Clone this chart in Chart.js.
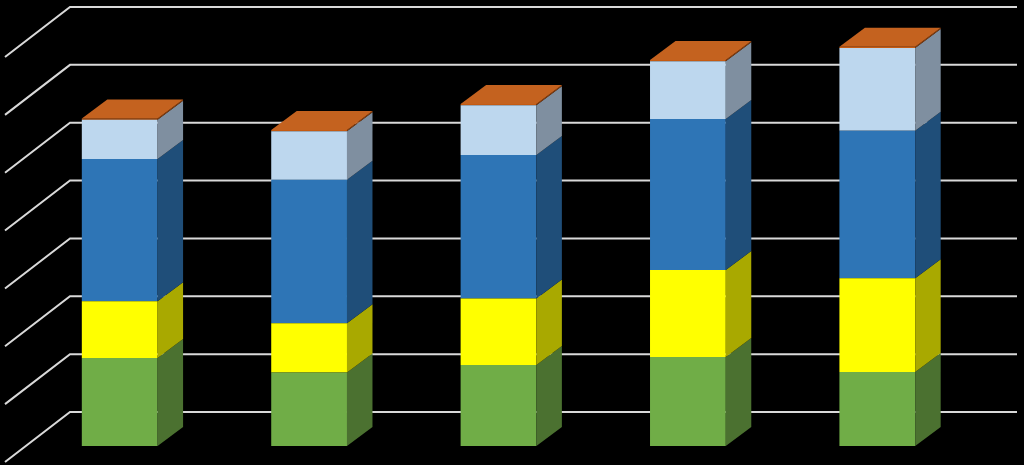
<!DOCTYPE html>
<html>
<head>
  <title>3D Stacked Columns</title>
  <script src="https://cdn.jsdelivr.net/npm/chart.js"></script>
  <style>
    body {
      margin: 0;
      background: #000;
    }
    #wrap {
      width: 1024px;
      height: 465px;
      position: relative;
    }
  </style>
</head>
<body>
  <div id="wrap"><canvas id="chart"></canvas></div>

  <script>
    // categories have no visible labels in the picture
    const categories = ["1", "2", "3", "4", "5"];

    const greenValues = [76, 63.5, 70, 77, 64];
    const yellowValues = [49, 42.5, 57.5, 75, 81];
    const blueValues = [123, 124, 124, 130.5, 127.5];
    const lightBlueValues = [34, 42, 43, 50, 71.5];
    const orangeValues = [1, 1, 1, 1, 1];

    const yMax = 350;
    const yStep = 50;

    // front colour, side colour
    const seriesColors = [
      ['#70AD47', '#4B7130'],
      ['#FFFF00', '#A9A900'],
      ['#2E75B6', '#1F4E79'],
      ['#BDD7EE', '#7F8FA0'],
      ['#C55A11', '#8A4010']
    ];
    const topColor = '#C4621F';

    // 3D offsets relative to the bar front plane
    const BAR_DEPTH = { dx: 25.5, dy: -19 };
    const WALL = { dx: 44, dy: -34 };
    const DIAG = { dx: -65, dy: 50 };

    const fake3d = {
      id: 'fake3d',
      beforeDraw(chart) {
        const ctx = chart.ctx;
        const y = chart.scales.y;
        const wallLeft = chart.chartArea.left + 45;
        ctx.save();
        ctx.fillStyle = '#000';
        ctx.fillRect(0, 0, chart.width, chart.height);
        // back wall gridlines + left wall diagonals
        ctx.strokeStyle = '#D9D9D9';
        ctx.lineWidth = 2;
        for (let v = 0; v <= yMax; v += yStep) {
          const yb = y.getPixelForValue(v) + WALL.dy;
          ctx.beginPath();
          ctx.moveTo(wallLeft + DIAG.dx, yb + DIAG.dy);
          ctx.lineTo(wallLeft, yb);
          ctx.lineTo(1017, yb);
          ctx.stroke();
        }
        ctx.restore();
      },
      afterDatasetsDraw(chart) {
        const ctx = chart.ctx;
        const last = chart.data.datasets.length - 1;
        ctx.save();
        chart.data.datasets.forEach((ds, di) => {
          const meta = chart.getDatasetMeta(di);
          meta.data.forEach(bar => {
            const p = bar.getProps(['x', 'y', 'base', 'width'], true);
            const left = p.x - p.width / 2;
            const right = p.x + p.width / 2;
            // side face
            ctx.fillStyle = seriesColors[di][1];
            ctx.beginPath();
            ctx.moveTo(right, p.y);
            ctx.lineTo(right + BAR_DEPTH.dx, p.y + BAR_DEPTH.dy);
            ctx.lineTo(right + BAR_DEPTH.dx, p.base + BAR_DEPTH.dy);
            ctx.lineTo(right, p.base);
            ctx.closePath();
            ctx.fill();
            // top face on the last series only
            if (di === last) {
              ctx.fillStyle = topColor;
              ctx.beginPath();
              ctx.moveTo(left, p.y);
              ctx.lineTo(left + BAR_DEPTH.dx, p.y + BAR_DEPTH.dy);
              ctx.lineTo(right + BAR_DEPTH.dx, p.y + BAR_DEPTH.dy);
              ctx.lineTo(right, p.y);
              ctx.closePath();
              ctx.fill();
            }
          });
        });
        ctx.restore();
      }
    };

    const series = [greenValues, yellowValues, blueValues, lightBlueValues, orangeValues];

    new Chart(document.getElementById('chart'), {
      type: 'bar',
      data: {
        labels: categories,
        datasets: series.map((vals, i) => ({
          data: vals,
          backgroundColor: seriesColors[i][0],
          borderWidth: 0,
          barPercentage: 0.4,
          categoryPercentage: 1
        }))
      },
      options: {
        responsive: true,
        maintainAspectRatio: false,
        animation: false,
        layout: { padding: { left: 25, right: 52, top: 41, bottom: 19 } },
        plugins: {
          legend: { display: false },
          tooltip: { enabled: false }
        },
        scales: {
          x: { stacked: true, display: false },
          y: { stacked: true, display: false, min: 0, max: yMax }
        }
      },
      plugins: [fake3d]
    });
  </script>
</body>
</html>
